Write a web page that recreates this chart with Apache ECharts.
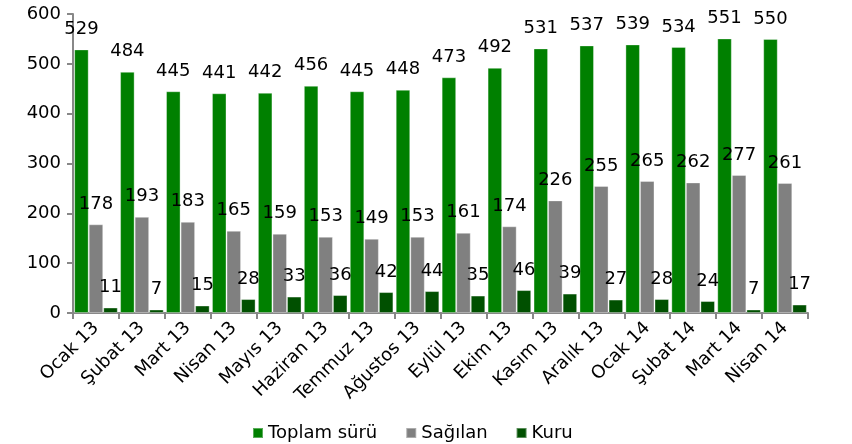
<!DOCTYPE html>
<html>
<head>
<meta charset="utf-8">
<script src="https://cdn.jsdelivr.net/npm/echarts@6/dist/echarts.min.js"></script>
<style>
  html, body { margin: 0; padding: 0; background: #fff; }
  #chart { width: 852px; height: 444px; }
</style>
</head>
<body>
<div id="chart"></div>
<script>
// aylar
const categories = ["Ocak 13", "Şubat 13", "Mart 13", "Nisan 13", "Mayıs 13", "Haziran 13", "Temmuz 13", "Ağustos 13",
  "Eylül 13", "Ekim 13", "Kasım 13", "Aralık 13", "Ocak 14", "Şubat 14", "Mart 14", "Nisan 14"];
const toplam = [529, 484, 445, 441, 442, 456, 445, 448, 473, 492, 531, 537, 539, 534, 551, 550];
const sagilan = [178, 193, 183, 165, 159, 153, 149, 153, 161, 174, 226, 255, 265, 262, 277, 261];
const kuru = [11, 7, 15, 28, 33, 36, 42, 44, 35, 46, 39, 27, 28, 24, 7, 17];
const names = ["Toplam sürü", "Sağılan", "Kuru"];
const colors = ["#008000", "#808080", "#005000"];

const font = "DejaVu Sans";
const chart = echarts.init(document.getElementById("chart"));

chart.setOption({
  animation: false,
  textStyle: { fontFamily: font },
  grid: { left: 73, right: 44, top: 14, bottom: 131 },
  legend: {
    bottom: -3,
    left: 247,
    itemWidth: 10,
    itemHeight: 10,
    itemGap: 28,
    itemTextGap: 6,
    icon: "rect",
    textStyle: { fontFamily: font, fontSize: 18, color: "#000" },
    data: names
  },
  xAxis: {
    type: "category",
    data: categories,
    axisLine: { lineStyle: { color: "#888", width: 2 } },
    axisTick: { show: true, length: 6, lineStyle: { color: "#888", width: 2 } },
    axisLabel: { rotate: 45, interval: 0, fontSize: 18, color: "#000", fontFamily: font, margin: 12 }
  },
  yAxis: {
    type: "value",
    min: 0,
    max: 600,
    interval: 100,
    splitLine: { show: false },
    axisLine: { show: true, lineStyle: { color: "#888", width: 2 } },
    axisTick: { show: true, length: 6, lineStyle: { color: "#888", width: 2 } },
    axisLabel: { fontSize: 18, color: "#000", fontFamily: font, margin: 12 }
  },
  series: [toplam, sagilan, kuru].map((d, i) => ({
    name: names[i],
    type: "bar",
    data: d,
    barGap: "0%",
    barCategoryGap: "5%",
    itemStyle: { color: colors[i], borderColor: "rgba(255,255,255,0.35)", borderWidth: 1 },
    label: {
      show: true,
      position: "top",
      distance: 11,
      fontSize: 18,
      color: "#000",
      fontFamily: font
    }
  }))
});
</script>
</body>
</html>
